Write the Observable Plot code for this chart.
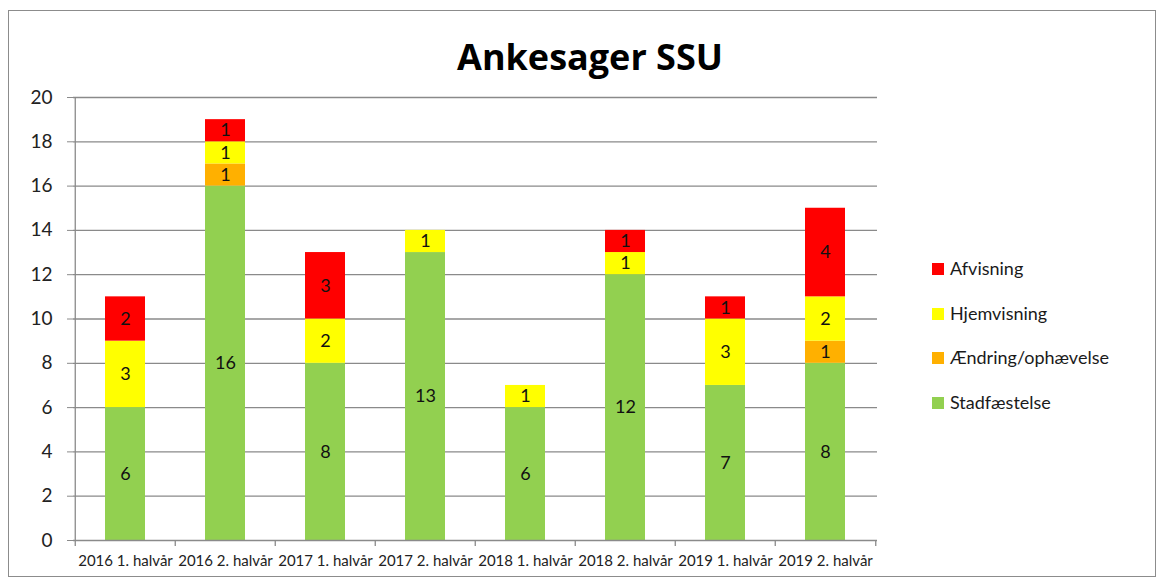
<!DOCTYPE html>
<html>
<head>
<meta charset="utf-8">
<script src="https://cdn.jsdelivr.net/npm/d3@7"></script>
<script src="https://cdn.jsdelivr.net/npm/@observablehq/plot@0.6"></script>
<style>
  html, body { margin: 0; padding: 0; background: #fff; }
  #wrap { position: relative; width: 1165px; height: 581px; font-family: Lato, "Open Sans", sans-serif; }
  #frame { position: absolute; left: 8px; top: 10px; width: 1148px; height: 567px; border: 1px solid #8c8c8c; box-sizing: border-box; pointer-events: none; }
  #title { position: absolute; left: 0; top: 32px; width: 1180px; text-align: center; font-family: "Open Sans", sans-serif; font-size: 36px; font-weight: bold; color: #000; }
  #legend { position: absolute; left: 932px; top: 257px; font-size: 18px; color: #1a1a1a; }
  #legend .item { height: 44.7px; display: flex; align-items: flex-start; }
  #legend .sw { width: 12px; height: 12px; margin-top: 6px; margin-right: 6px; }
  #chart { position: absolute; left: 0; top: 0; }
</style>
</head>
<body>
<div id="wrap">
  <div id="chart"></div>
  <div id="title">Ankesager SSU</div>
  <div id="legend"></div>
  <div id="frame"></div>
</div>
<script>
const categories = ["2016 1. halvår","2016 2. halvår","2017 1. halvår","2017 2. halvår","2018 1. halvår","2018 2. halvår","2019 1. halvår","2019 2. halvår"];
const seriesNames = ["Stadfæstelse","Ændring/ophævelse","Hjemvisning","Afvisning"];
const seriesColors = ["#92d050","#ffb000","#ffff00","#ff0000"];
const stadfaestelse = [6,16,8,13,6,12,7,8];
const aendring = [0,1,0,0,0,0,0,1];
const hjemvisning = [3,1,2,1,1,1,3,2];
const afvisning = [2,1,3,0,0,1,1,4];
const yTicks = [0,2,4,6,8,10,12,14,16,18,20];

const seriesValues = [stadfaestelse, aendring, hjemvisning, afvisning];
const rows = [];
categories.forEach((c, i) => {
  seriesNames.forEach((s, j) => {
    rows.push({category: c, series: s, value: seriesValues[j][i]});
  });
});
const nonzero = rows.filter(d => d.value > 0);

const W = 1165, H = 581;
const mL = 73, mR = 1165 - 877, mT = 97, mB = 581 - 540;
const step = (W - mL - mR) / categories.length;
const grid = "#8a8a8a";

const chart = Plot.plot({
  width: W, height: H,
  marginLeft: mL, marginRight: mR, marginTop: mT, marginBottom: mB,
  style: {fontFamily: "Lato, 'Open Sans', sans-serif", background: "transparent", overflow: "visible"},
  x: {domain: categories, paddingInner: 0.6, paddingOuter: 0.3, label: null},
  y: {domain: [0, 20], label: null},
  color: {domain: seriesNames, range: seriesColors},
  marks: [
    Plot.ruleY(yTicks.filter(t => t > 0), {y: d => d, stroke: grid, strokeWidth: 1.3}),
    Plot.barY(rows, {x: "category", y: "value", fill: "series", order: seriesNames}),
    Plot.text(nonzero, Plot.stackY({x: "category", y: "value", z: "series", order: seriesNames, text: d => String(d.value), fill: "#111", fontSize: 18})),
    Plot.ruleY([0], {stroke: grid, strokeWidth: 1.3}),
    Plot.ruleX([categories[0]], {x: d => d, dx: -step / 2, y1: 0, y2: 20, stroke: grid, strokeWidth: 1.3}),
    Plot.ruleX(categories, {x: d => d, dx: -step / 2, y1: 0, y2: 0, insetBottom: -6, stroke: grid, strokeWidth: 1.3}),
    Plot.ruleX([categories[categories.length - 1]], {x: d => d, dx: step / 2, y1: 0, y2: 0, insetBottom: -6, stroke: grid, strokeWidth: 1.3}),
    Plot.axisY({ticks: yTicks, tickSize: 6, tickPadding: 15, stroke: grid, fill: "#222", fontSize: 19, label: null, tickFormat: d => String(d)}),
    Plot.axisX({tickSize: 0, tickPadding: 15, fill: "#222", fontSize: 15, label: null})
  ]
});
document.getElementById("chart").appendChild(chart);

const legend = document.getElementById("legend");
["Afvisning","Hjemvisning","Ændring/ophævelse","Stadfæstelse"].forEach(name => {
  const idx = seriesNames.indexOf(name);
  const it = document.createElement("div");
  it.className = "item";
  const sw = document.createElement("div");
  sw.className = "sw";
  sw.style.background = seriesColors[idx];
  const tx = document.createElement("span");
  tx.textContent = name;
  it.appendChild(sw); it.appendChild(tx);
  legend.appendChild(it);
});
</script>
</body>
</html>
